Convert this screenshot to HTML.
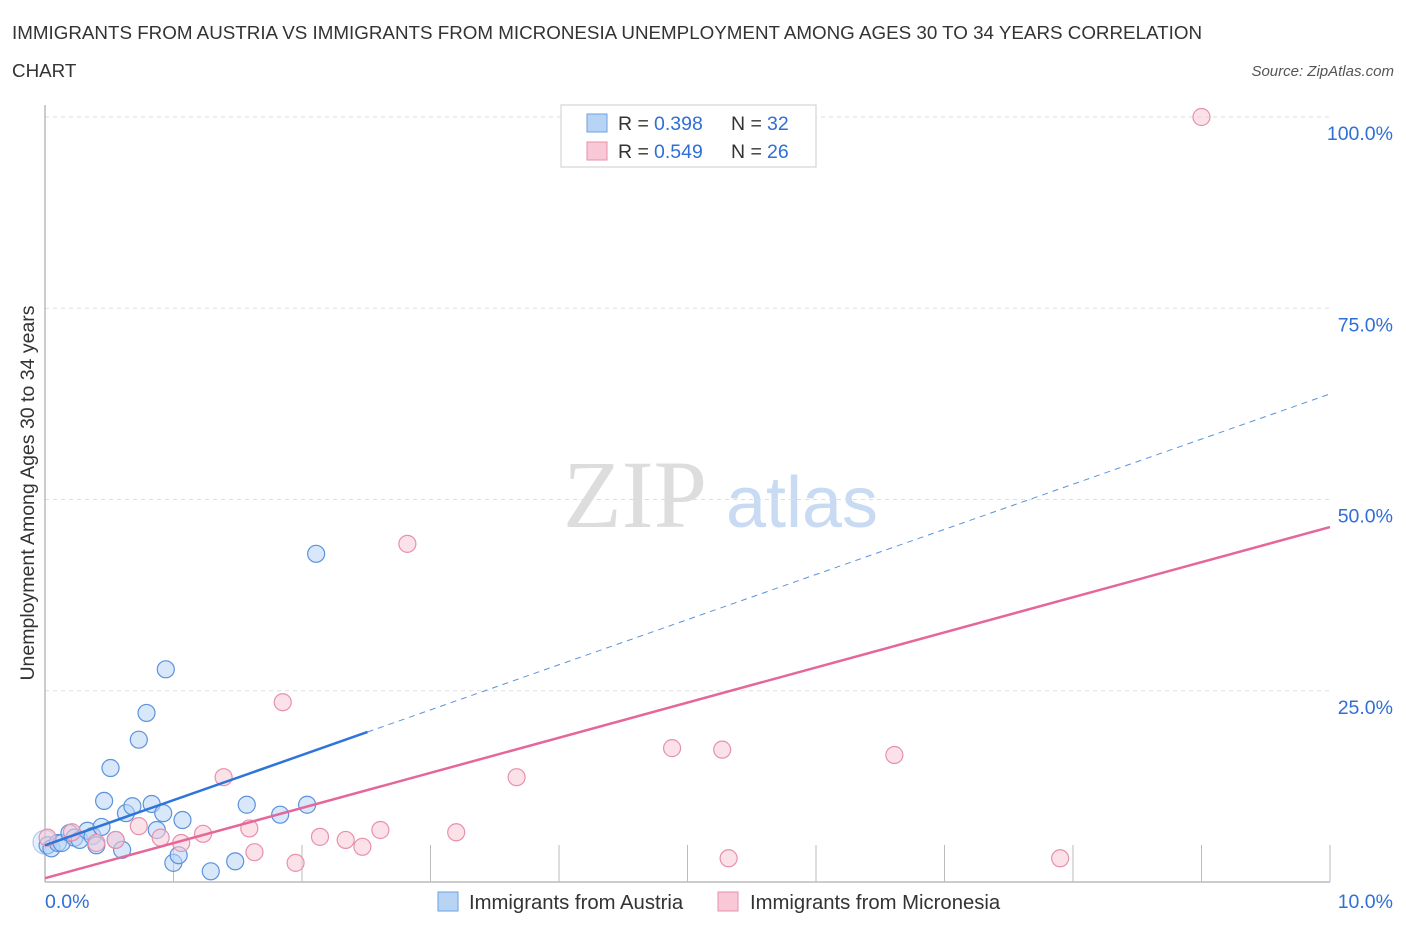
<!DOCTYPE html>
<html><head><meta charset="utf-8"><style>
body{margin:0;background:#fff;font-family:"Liberation Sans",sans-serif}
</style></head><body>
<svg id="c" width="1406" height="930" font-family="Liberation Sans, sans-serif">
<text x="12" y="39" font-size="18.8" fill="#333">IMMIGRANTS FROM AUSTRIA VS IMMIGRANTS FROM MICRONESIA UNEMPLOYMENT AMONG AGES 30 TO 34 YEARS CORRELATION</text>
<text x="12" y="77" font-size="18.8" fill="#333">CHART</text>
<text x="1394" y="76" font-size="15" fill="#555" font-style="italic" text-anchor="end">Source: ZipAtlas.com</text>
<text x="34" y="493" font-size="19.5" fill="#333" text-anchor="middle" transform="rotate(-90 34 493)">Unemployment Among Ages 30 to 34 years</text>
<g>
<text x="635" y="527" font-size="96" fill="#ddd" style="font-family:'Liberation Serif',serif" text-anchor="middle">ZIP</text>
<text x="802" y="527" font-size="72" fill="#c8dbf2" text-anchor="middle">atlas</text>
</g>
<g id="grid"></g><g id="marks"></g>
<g>
<rect x="561" y="105" width="255" height="62" fill="#fff" stroke="#ccc"/>
<rect x="587" y="114" width="20" height="18" fill="#b8d4f5" stroke="#6d9fe0"/>
<text x="618" y="130" font-size="19.5" fill="#333">R = </text><text x="654" y="130" font-size="19.5" fill="#2f6fd6">0.398</text>
<text x="731" y="130" font-size="19.5" fill="#333">N = </text><text x="767" y="130" font-size="19.5" fill="#2f6fd6">32</text>
<rect x="587" y="142" width="20" height="18" fill="#f8c8d6" stroke="#e88fab"/>
<text x="618" y="158" font-size="19.5" fill="#333">R = </text><text x="654" y="158" font-size="19.5" fill="#2f6fd6">0.549</text>
<text x="731" y="158" font-size="19.5" fill="#333">N = </text><text x="767" y="158" font-size="19.5" fill="#2f6fd6">26</text>
</g>
<g>
<rect x="438" y="892" width="20" height="19" fill="#b8d4f5" stroke="#6d9fe0"/>
<text x="469" y="909" font-size="20.3" fill="#333">Immigrants from Austria</text>
<rect x="718" y="892" width="20" height="19" fill="#f8c8d6" stroke="#e88fab"/>
<text x="750" y="909" font-size="20.3" fill="#333">Immigrants from Micronesia</text>
</g>
</svg>
<script>
const yTicks=[25,50,75,100];
const austriaX=[0.02,0.05,0.1,0.13,0.19,0.23,0.27,0.33,0.37,0.4,0.44,0.46,0.51,0.55,0.6,0.63,0.68,0.73,0.79,0.83,0.87,0.92,0.94,0.999,1.04,1.07,1.29,1.48,1.57,1.83,2.04,2.11];
const austriaY=[4.8,4.4,5.1,5.1,6.4,5.8,5.5,6.7,6.0,4.8,7.2,10.6,14.9,5.5,4.2,9.0,9.9,18.6,22.1,10.2,6.8,9.0,27.8,2.5,3.5,8.1,1.4,2.7,10.1,8.8,10.1,42.9];
const micronesiaX=[0.02,0.21,0.4,0.55,0.73,0.9,1.06,1.23,1.39,1.59,1.63,1.85,1.95,2.14,2.34,2.47,2.61,2.82,3.2,3.67,4.88,5.27,5.32,6.61,7.9,9.0];
const micronesiaY=[5.8,6.5,5.1,5.5,7.3,5.8,5.1,6.3,13.7,7.0,3.9,23.5,2.5,5.9,5.5,4.6,6.8,44.2,6.5,13.7,17.5,17.3,3.1,16.6,3.1,100];
const blueLine=[4.8,63.8], blueSolidEnd=2.51, pinkLine=[0.5,46.4];
const X=v=>45+v*128.5, Y=v=>882-v*7.65;
const ns='http://www.w3.org/2000/svg';
function mk(t,a,p){const e=document.createElementNS(ns,t);for(const k in a)e.setAttribute(k,a[k]);p.appendChild(e);return e;}
const g=document.getElementById('grid'), m=document.getElementById('marks');
yTicks.forEach(t=>{
 const l=mk('line',{x1:45,x2:1330,y1:Y(t),y2:Y(t),stroke:'#ddd','stroke-dasharray':'4,4'},g);
 
 
 const tx=mk('text',{x:1393,y:Y(t)+23,'font-size':19.5,fill:'#2f6fd6','text-anchor':'end'},g);tx.textContent=t.toFixed(1)+'%';
 
 
});
mk('line',{x1:45,x2:45,y1:105,y2:882,stroke:'#999'},g);
mk('line',{x1:45,x2:1330,y1:882,y2:882,stroke:'#999'},g);
for(let i=1;i<=10;i++){const tk=mk('line',{x1:X(i),x2:X(i),y1:845,y2:882,stroke:'#bbb'},g);
 
 }
const x0=mk('text',{x:45,y:908,'font-size':19.5,fill:'#2f6fd6'},g);x0.textContent='0.0%';
const x1=mk('text',{x:1393,y:908,'font-size':19.5,fill:'#2f6fd6','text-anchor':'end'},g);x1.textContent='10.0%';
function dot(x,y,fill,stroke,r,name){const c=mk('circle',{cx:X(x),cy:Y(y),r:r,fill:fill,stroke:stroke,'stroke-width':1.2},m);
 
 }
dot(0,5.2,'rgba(184,212,245,0.35)','rgba(109,159,224,0.5)',12,'austria-point');
austriaX.forEach((x,i)=>dot(x,austriaY[i],'rgba(184,212,245,0.55)','#5b93dd',8.5,'austria-point'));
micronesiaX.forEach((x,i)=>dot(x,micronesiaY[i],'rgba(248,200,214,0.55)','#e890ad',8.5,'micronesia-point'));
const by=x=>blueLine[0]+(blueLine[1]-blueLine[0])*x/10, py=x=>pinkLine[0]+(pinkLine[1]-pinkLine[0])*x/10;
let l=mk('line',{x1:X(0),y1:Y(by(0)),x2:X(blueSolidEnd),y2:Y(by(blueSolidEnd)),stroke:'#2f74d8','stroke-width':2.5},m);


l=mk('line',{x1:X(blueSolidEnd),y1:Y(by(blueSolidEnd)),x2:X(10),y2:Y(by(10)),stroke:'#5b93dd','stroke-width':1,'stroke-dasharray':'6,5'},m);


l=mk('line',{x1:X(0),y1:Y(py(0)),x2:X(10),y2:Y(py(10)),stroke:'#e5679a','stroke-width':2.5},m);


</script>
</body></html>
